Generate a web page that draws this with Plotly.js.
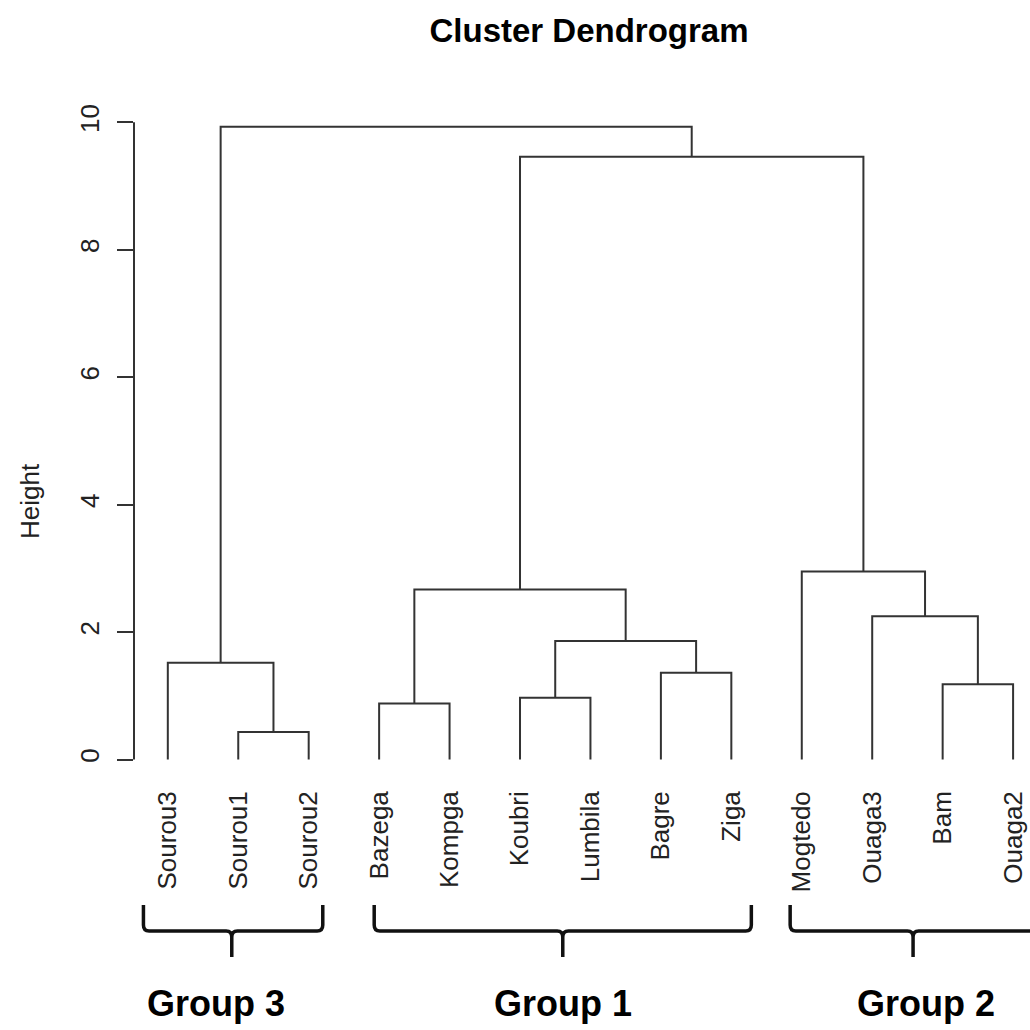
<!DOCTYPE html>
<html>
<head>
<meta charset="utf-8">
<script src="https://cdn.plot.ly/plotly-3.0.1.min.js"></script>
<style>html,body{margin:0;padding:0;background:#fff}#chart{width:1030px;height:1030px}</style>
</head>
<body>
<div id="chart"></div>
<script>
// Leaves in dendrogram order
const leafLabels = ['Sourou3','Sourou1','Sourou2','Bazega','Kompga','Koubri','Lumbila','Bagre','Ziga','Mogtedo','Ouaga3','Bam','Ouaga2'];
// hclust-style merge table: negative = leaf (1-based position), positive = earlier merge row
const mergeLeft  = [-2, -4, -6, -12, -8, -1, 3, -11, 2, -10, 9, 6];
const mergeRight = [-3, -5, -7, -13, -9,  1, 5,   4, 7,   8, 10, 11];
const mergeHeight = [0.43, 0.88, 0.97, 1.18, 1.36, 1.52, 1.86, 2.25, 2.67, 2.95, 9.46, 9.93];
const yTicks = [0, 2, 4, 6, 8, 10];
const groupNames = ['Group 3', 'Group 1', 'Group 2'];

// ---- build dendrogram segments through data coordinates ----
const nodeX = [], nodeH = [];
function pos(ref) { return ref < 0 ? {x: -ref, h: 0} : {x: nodeX[ref - 1], h: nodeH[ref - 1]}; }
const segX = [], segY = [];
for (let i = 0; i < mergeHeight.length; i++) {
  const a = pos(mergeLeft[i]), b = pos(mergeRight[i]);
  const h = mergeHeight[i];
  segX.push(a.x, a.x, b.x, b.x, null);
  segY.push(a.h, h, h, b.h, null);
  nodeX.push((a.x + b.x) / 2);
  nodeH.push(h);
}

// ---- layout geometry ----
const W = 1030, H = 1030;
const mL = 134, mR = 0, mT = 100, mB = 245;
const plotH = H - mT - mB;
const py = p => (H - mB - p) / plotH; // pixel y -> paper y

// Brace decoration (group extents in x data units)
const braceSpec = [
  {xl: 0.654, tip: 1.908, xr: 3.20, label: 1.685},
  {xl: 3.930, tip: 6.607, xr: 9.284, label: 6.61},
  {xl: 9.835, tip: 11.58, xr: 13.33, label: 11.76}
];
const yTop = 905, yMid = 931, yBot = 957, rx = 0.08, rp = 6;
const shapes = [];
braceSpec.forEach(b => {
  const path =
    'M' + b.xl + ',' + py(yTop) +
    ' L' + b.xl + ',' + py(yMid - rp) +
    ' Q' + b.xl + ',' + py(yMid) + ' ' + (b.xl + rx) + ',' + py(yMid) +
    ' L' + (b.tip - rx) + ',' + py(yMid) +
    ' Q' + b.tip + ',' + py(yMid) + ' ' + b.tip + ',' + py(yMid + rp) +
    ' L' + b.tip + ',' + py(yBot) +
    ' M' + b.tip + ',' + py(yMid + rp) +
    ' Q' + b.tip + ',' + py(yMid) + ' ' + (b.tip + rx) + ',' + py(yMid) +
    ' L' + (b.xr - rx) + ',' + py(yMid) +
    ' Q' + b.xr + ',' + py(yMid) + ' ' + b.xr + ',' + py(yMid - rp) +
    ' L' + b.xr + ',' + py(yTop);
  shapes.push({type: 'path', xref: 'x', yref: 'paper', path: path,
    line: {color: '#111', width: 3.5}, layer: 'above'});
});
// y axis line spanning the tick range only (R style)
shapes.push({type: 'line', xref: 'paper', yref: 'y', x0: 0, x1: 0,
  y0: yTicks[0], y1: yTicks[yTicks.length - 1], line: {color: '#333', width: 2}});

const annotations = braceSpec.map((b, i) => ({
  text: '<b>' + groupNames[i] + '</b>', xref: 'x', yref: 'paper',
  x: b.label, y: py(1004), xanchor: 'center', yanchor: 'middle', showarrow: false,
  font: {family: 'Liberation Sans, Arial, sans-serif', size: 36, color: '#000'}
}));
annotations.push({
  text: 'Height', xref: 'paper', yref: 'paper', x: (30 - mL) / (W - mL - mR), y: py(501),
  xanchor: 'center', yanchor: 'middle', textangle: -90, showarrow: false,
  font: {family: 'Liberation Sans, Arial, sans-serif', size: 26, color: '#222'}
});

const trace = {
  x: segX, y: segY, type: 'scatter', mode: 'lines',
  line: {color: '#333', width: 2}, hoverinfo: 'skip', connectgaps: false
};

const layout = {
  width: W, height: H,
  margin: {l: mL, r: mR, t: mT, b: mB},
  paper_bgcolor: '#fff', plot_bgcolor: '#fff',
  showlegend: false,
  title: {
    text: '<b>Cluster Dendrogram</b>', xref: 'container', x: 589 / W,
    yref: 'container', y: 1 - 30 / H, xanchor: 'center', yanchor: 'middle',
    font: {family: 'Liberation Sans, Arial, sans-serif', size: 33, color: '#000'}
  },
  xaxis: {
    range: [0.52, 13.24], tickmode: 'array',
    tickvals: leafLabels.map((_, i) => i + 1), ticktext: leafLabels,
    tickangle: -90, ticks: '', showline: false, showgrid: false, zeroline: false,
    tickfont: {family: 'Liberation Sans, Arial, sans-serif', size: 26, color: '#222'}
  },
  yaxis: {
    range: [-0.4, 10.35], tickmode: 'array', tickvals: yTicks,
    ticktext: yTicks.map(String), tickangle: -90,
    ticks: 'outside', ticklen: 16, tickwidth: 2, tickcolor: '#333',
    ticklabelstandoff: 8,
    showline: false, showgrid: false, zeroline: false,
    tickfont: {family: 'Liberation Sans, Arial, sans-serif', size: 26, color: '#222'}
  },
  shapes: shapes,
  annotations: annotations
};

Plotly.newPlot('chart', [trace], layout, {staticPlot: true, displayModeBar: false});
</script>
</body>
</html>
